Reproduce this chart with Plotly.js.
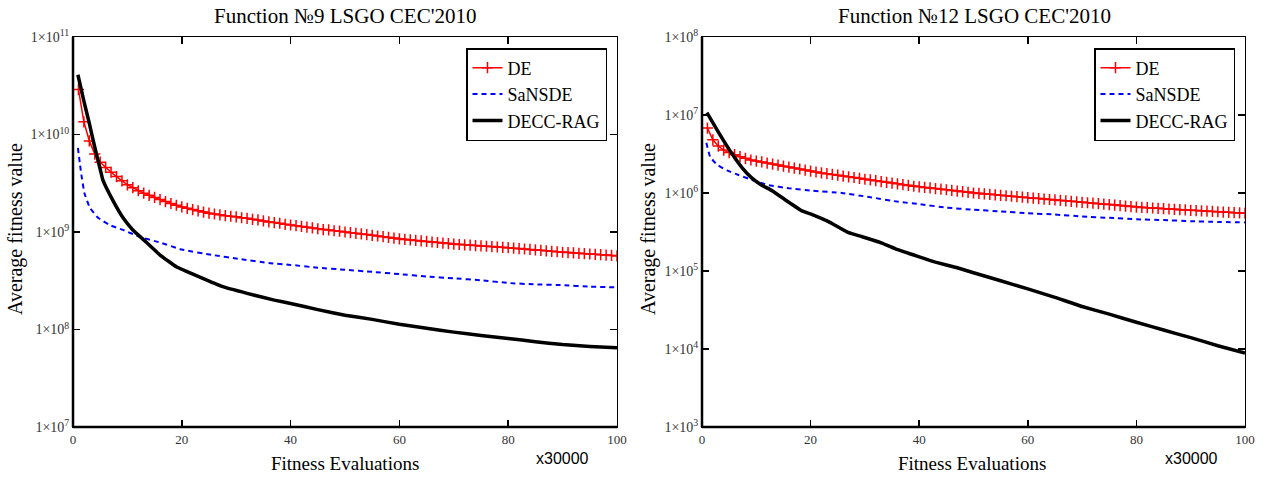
<!DOCTYPE html>
<html>
<head>
<meta charset="utf-8">
<script src="https://cdn.plot.ly/plotly-3.0.1.min.js"></script>
<style>html,body{margin:0;padding:0;background:#fff;}#chart{width:1273px;height:479px;}</style>
</head>
<body>
<div id="chart"></div>
<script>
// ---------- Data: Function 9 ----------
const deX9 = [1,2,3,4,5,6,7,8,9,10,11,12,13,14,15,16,17,18,19,20,21,22,23,24,25,26,27,28,29,30,31,32,33,34,35,36,37,38,39,40,41,42,43,44,45,46,47,48,49,50,51,52,53,54,55,56,57,58,59,60,61,62,63,64,65,66,67,68,69,70,71,72,73,74,75,76,77,78,79,80,81,82,83,84,85,86,87,88,89,90,91,92,93,94,95,96,97,98,99,100];
const deY9 = [2.9e10,1.35e10,8.6e9,6.3e9,5.2e9,4.6e9,4.1e9,3.7e9,3.35e9,3.05e9,
  2.85e9,2.65e9,2.5e9,2.38e9,2.26e9,2.15e9,2.05e9,1.96e9,1.88e9,1.81e9,
  1.75e9,1.70e9,1.65e9,1.60e9,1.56e9,1.53e9,1.50e9,1.47e9,1.45e9,1.43e9,
  1.40e9,1.38e9,1.35e9,1.33e9,1.30e9,1.27e9,1.25e9,1.23e9,1.20e9,1.18e9,
  1.16e9,1.14e9,1.12e9,1.10e9,1.08e9,1.06e9,1.05e9,1.03e9,1.02e9,1.00e9,
  9.85e8,9.7e8,9.55e8,9.4e8,9.25e8,9.1e8,8.95e8,8.8e8,8.65e8,8.5e8,
  8.4e8,8.3e8,8.2e8,8.1e8,8.0e8,7.9e8,7.8e8,7.7e8,7.6e8,7.5e8,
  7.44e8,7.38e8,7.32e8,7.26e8,7.2e8,7.14e8,7.08e8,7.02e8,6.96e8,6.9e8,
  6.83e8,6.76e8,6.69e8,6.62e8,6.55e8,6.48e8,6.41e8,6.34e8,6.27e8,6.2e8,
  6.15e8,6.1e8,6.05e8,6.0e8,5.95e8,5.9e8,5.85e8,5.8e8,5.75e8,5.7e8];
const saX9 = [0.9,1.5,2.1,3.1,4.6,6.7,9.2,12.3,16,20,25.7,30.6,36,40,45,50,55,60,65,70,75,80,85,90,95,100];
const saY9 = [7.3e9,4.0e9,2.5e9,1.77e9,1.4e9,1.18e9,1.05e9,8.9e8,7.8e8,6.6e8,5.8e8,5.3e8,4.8e8,4.6e8,4.3e8,4.1e8,3.9e8,3.7e8,3.5e8,3.35e8,3.2e8,3.0e8,2.9e8,2.85e8,2.75e8,2.7e8];
const raX9 = [0.9,2,3,4,5,5.5,7.35,9.2,11,13,16,19,23,27.5,32,37,40,45,50,55,60,65,70,75,80,85,90,95,100];
const raY9 = [4.1e10,2.2e10,1.3e10,7.4e9,4.4e9,3.4e9,2.1e9,1.4e9,1.05e9,8.3e8,5.8e8,4.4e8,3.5e8,2.75e8,2.35e8,2.0e8,1.85e8,1.6e8,1.4e8,1.27e8,1.13e8,1.03e8,9.4e7,8.7e7,8.1e7,7.5e7,7.0e7,6.7e7,6.5e7];

// ---------- Data: Function 12 ----------
const deX12 = deX9.slice();
const deY12 = [6.8e6,4.8e6,4.0e6,3.55e6,3.3e6,3.1e6,2.92e6,2.78e6,2.65e6,2.57e6,
  2.50e6,2.42e6,2.35e6,2.28e6,2.21e6,2.15e6,2.09e6,2.03e6,1.97e6,1.91e6,
  1.86e6,1.81e6,1.77e6,1.73e6,1.69e6,1.65e6,1.61e6,1.58e6,1.54e6,1.50e6,
  1.47e6,1.44e6,1.40e6,1.37e6,1.34e6,1.31e6,1.28e6,1.25e6,1.22e6,1.20e6,
  1.18e6,1.16e6,1.14e6,1.12e6,1.10e6,1.08e6,1.06e6,1.04e6,1.02e6,1.00e6,
  9.87e5,9.74e5,9.61e5,9.48e5,9.35e5,9.22e5,9.09e5,8.96e5,8.83e5,8.7e5,
  8.59e5,8.48e5,8.37e5,8.26e5,8.15e5,8.04e5,7.93e5,7.82e5,7.71e5,7.6e5,
  7.5e5,7.4e5,7.3e5,7.2e5,7.1e5,7.0e5,6.9e5,6.8e5,6.7e5,6.6e5,
  6.54e5,6.48e5,6.42e5,6.36e5,6.3e5,6.24e5,6.18e5,6.12e5,6.06e5,6.0e5,
  5.95e5,5.9e5,5.85e5,5.8e5,5.75e5,5.7e5,5.65e5,5.6e5,5.55e5,5.5e5];
const saX12 = [0.8,1.5,2.8,4.6,6.75,9.2,12.3,16,20.3,25.8,30.7,36.2,40,45,50,55,60,65,70,75,80,85,90,95,100];
const saY12 = [4.4e6,2.9e6,2.3e6,1.95e6,1.7e6,1.47e6,1.26e6,1.15e6,1.07e6,1.0e6,8.9e5,7.7e5,7.2e5,6.5e5,6.1e5,5.8e5,5.5e5,5.3e5,5.0e5,4.8e5,4.6e5,4.5e5,4.35e5,4.25e5,4.2e5];
const raX12 = [0.9,3.1,5.5,7.4,9.2,11,12.9,15.3,18.4,20.3,23.3,27,29.5,33,36.2,39.6,43,47,50,55,60,65,70,75,80,85,90,95,100];
const raY12 = [1.07e7,5.9e6,3.2e6,2.1e6,1.55e6,1.26e6,1.07e6,8.2e5,5.9e5,5.3e5,4.3e5,3.1e5,2.75e5,2.3e5,1.86e5,1.55e5,1.3e5,1.1e5,9.5e4,7.5e4,5.9e4,4.6e4,3.5e4,2.8e4,2.2e4,1.75e4,1.4e4,1.1e4,8.9e3];

// ---------- Tick labels ----------
const xTicks = [0,20,40,60,80,100];
const yTicks9 = [1e7,1e8,1e9,1e10,1e11];
const yTickText9 = ['1×10<sup>7</sup>','1×10<sup>8</sup>','1×10<sup>9</sup>','1×10<sup>10</sup>','1×10<sup>11</sup>'];
const yTicks12 = [1e3,1e4,1e5,1e6,1e7,1e8];
const yTickText12 = ['1×10<sup>3</sup>','1×10<sup>4</sup>','1×10<sup>5</sup>','1×10<sup>6</sup>','1×10<sup>7</sup>','1×10<sup>8</sup>'];
const names = ['DE','SaNSDE','DECC-RAG'];

// ---------- Layout helpers ----------
const W = 1273, H = 479;
const px = v => v / W;
const py = v => 1 - v / H;
const SERIF = 'Liberation Serif, Times New Roman, serif';

function deTrace(x, y, xa, ya, lg) {
  return {x, y, xaxis: xa, yaxis: ya, name: names[0], legend: lg, type: 'scatter', mode: 'lines+markers',
    line: {color: '#ff0000', width: 1.5},
    marker: {symbol: 'cross-thin', size: 8, color: '#ff0000', line: {color: '#ff0000', width: 1.5}}};
}
function saTrace(x, y, xa, ya, lg) {
  return {x, y, xaxis: xa, yaxis: ya, name: names[1], legend: lg, type: 'scatter', mode: 'lines',
    line: {color: '#0000ff', width: 2, dash: '5px,4px', shape: 'spline', smoothing: 0.3}};
}
function raTrace(x, y, xa, ya, lg) {
  return {x, y, xaxis: xa, yaxis: ya, name: names[2], legend: lg, type: 'scatter', mode: 'lines',
    line: {color: '#000000', width: 3.5, shape: 'spline', smoothing: 0.3}};
}

const data = [
  deTrace(deX9, deY9, 'x', 'y', 'legend'),
  saTrace(saX9, saY9, 'x', 'y', 'legend'),
  raTrace(raX9, raY9, 'x', 'y', 'legend'),
  deTrace(deX12, deY12, 'x2', 'y2', 'legend2'),
  saTrace(saX12, saY12, 'x2', 'y2', 'legend2'),
  raTrace(raX12, raY12, 'x2', 'y2', 'legend2')
];

function xAxis(dom, anchor) {
  return {domain: dom, anchor, range: [0, 100], tickvals: xTicks, ticktext: xTicks.map(String),
    ticks: 'inside', ticklen: 7, tickwidth: 1.5, tickcolor: '#000', showline: true, linecolor: '#000', linewidth: 1,
    mirror: 'ticks', showgrid: false, zeroline: false, tickfont: {family: SERIF, size: 13, color: '#333'}};
}
function yAxis(dom, anchor, range, vals, text) {
  return {domain: dom, anchor, type: 'log', range, tickvals: vals, ticktext: text,
    ticks: 'inside', ticklen: 7, tickwidth: 1.5, tickcolor: '#000', showline: true, linecolor: '#000', linewidth: 1,
    mirror: 'ticks', showgrid: false, zeroline: false, tickfont: {family: SERIF, size: 14, color: '#333'}};
}
function legendCfg(xr) {
  return {x: px(xr), xanchor: 'right', y: py(48), yanchor: 'top', bgcolor: '#fff', bordercolor: '#000', borderwidth: 1.5,
    font: {family: SERIF, size: 18, color: '#000'}, tracegroupgap: 0, itemwidth: 30};
}
function frameShapes(xa, ya) {
  return [
    {type: 'line', xref: xa + ' domain', yref: ya + ' domain', x0: 0, x1: 0, y0: 0, y1: 1, line: {color: '#000', width: 2.5}},
    {type: 'line', xref: xa + ' domain', yref: ya + ' domain', x0: 0, x1: 1, y0: 0, y1: 0, line: {color: '#000', width: 2.5}}
  ];
}
function ann(text, x, y, size, opts) {
  return Object.assign({text, xref: 'paper', yref: 'paper', x: px(x), y: py(y), xanchor: 'center', yanchor: 'middle',
    showarrow: false, font: {family: SERIF, size, color: '#000'}}, opts || {});
}

const yDom = [py(427), py(37)];
const SANS = {family: 'Liberation Sans, Arial, sans-serif', size: 16, color: '#000'};
const layout = {
  width: W, height: H, margin: {l: 0, r: 0, t: 0, b: 0}, paper_bgcolor: '#fff', plot_bgcolor: '#fff',
  showlegend: true,
  xaxis: xAxis([px(73), px(617)], 'y'),
  yaxis: yAxis(yDom, 'x', [7, 11], yTicks9, yTickText9),
  xaxis2: xAxis([px(702), px(1245)], 'y2'),
  yaxis2: yAxis(yDom, 'x2', [3, 8], yTicks12, yTickText12),
  legend: legendCfg(607),
  legend2: legendCfg(1235),
  shapes: frameShapes('x', 'y').concat(frameShapes('x2', 'y2')),
  annotations: [
    ann('Function №9 LSGO CEC\'2010', 345, 16, 21),
    ann('Function №12 LSGO CEC\'2010', 974, 16, 21),
    ann('Average fitness value', 16, 229, 20, {textangle: -90}),
    ann('Average fitness value', 649, 229, 20, {textangle: -90}),
    ann('Fitness Evaluations', 345, 463, 19),
    ann('Fitness Evaluations', 972, 463, 19),
    ann('x30000', 562, 458, 16, {font: SANS}),
    ann('x30000', 1191, 458, 16, {font: SANS})
  ]
};

Plotly.newPlot('chart', data, layout, {displayModeBar: false, staticPlot: true});
</script>
</body>
</html>
